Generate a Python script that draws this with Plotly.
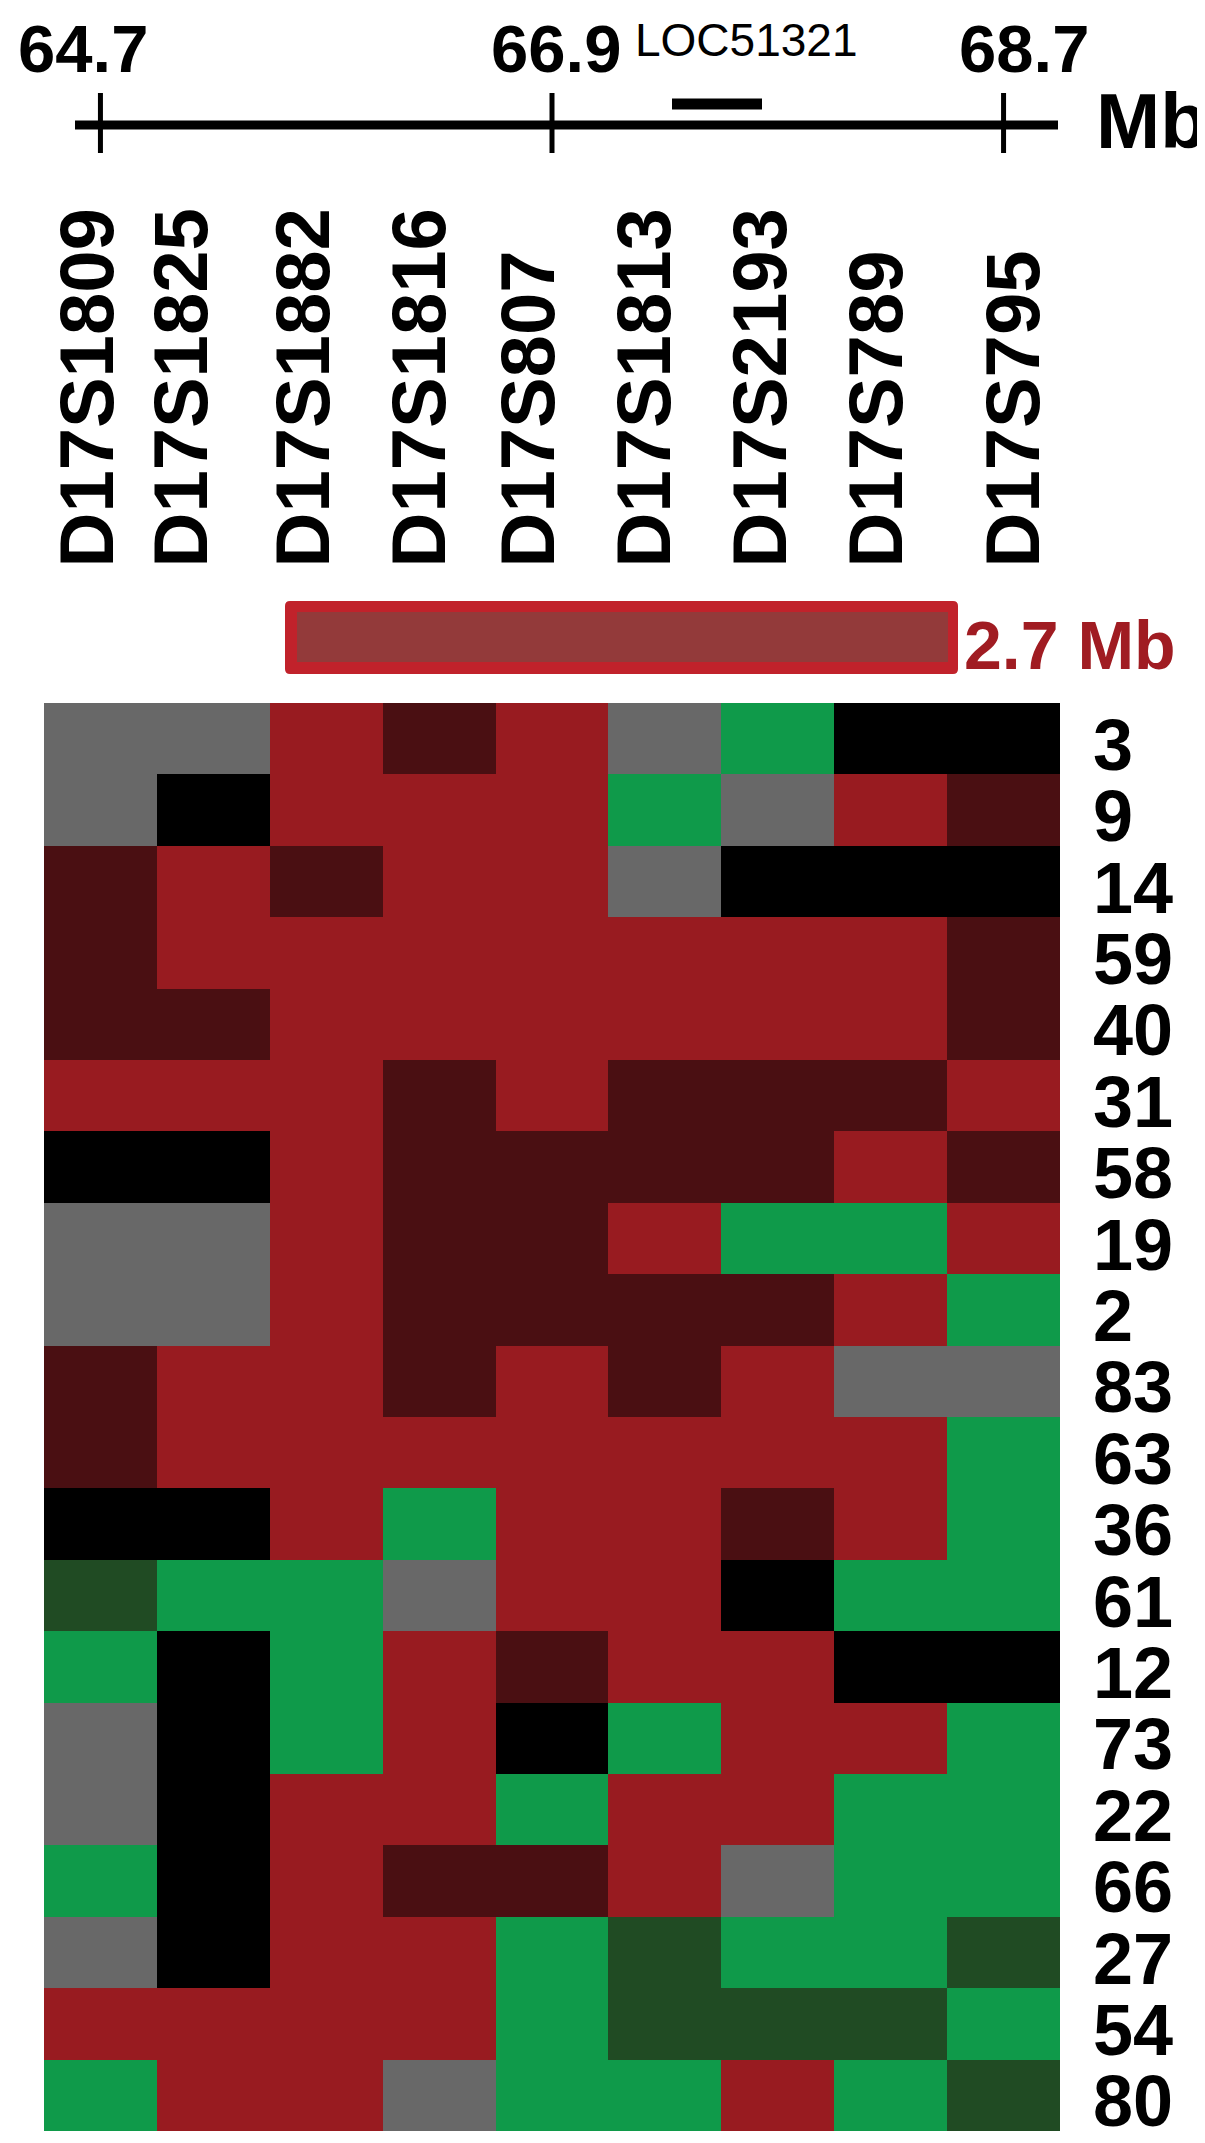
import plotly.graph_objects as go

# genotype codes per cell
CODE_COLORS = ["#000000", "#4A0F12", "#981B20", "#686868", "#0F9A4A", "#204B23"]
K, D, R, Y, G, E = 0, 1, 2, 3, 4, 5

markers = ["D17S1809", "D17S1825", "D17S1882", "D17S1816", "D17S807",
           "D17S1813", "D17S2193", "D17S789", "D17S795"]
patients = ["3", "9", "14", "59", "40", "31", "58", "19", "2", "83",
            "63", "36", "61", "12", "73", "22", "66", "27", "54", "80"]
genotypes = [
    [Y, Y, R, D, R, Y, G, K, K],
    [Y, K, R, R, R, G, Y, R, D],
    [D, R, D, R, R, Y, K, K, K],
    [D, R, R, R, R, R, R, R, D],
    [D, D, R, R, R, R, R, R, D],
    [R, R, R, D, R, D, D, D, R],
    [K, K, R, D, D, D, D, R, D],
    [Y, Y, R, D, D, R, G, G, R],
    [Y, Y, R, D, D, D, D, R, G],
    [D, R, R, D, R, D, R, Y, Y],
    [D, R, R, R, R, R, R, R, G],
    [K, K, R, G, R, R, D, R, G],
    [E, G, G, Y, R, R, K, G, G],
    [G, K, G, R, D, R, R, K, K],
    [Y, K, G, R, K, G, R, R, G],
    [Y, K, R, R, G, R, R, G, G],
    [G, K, R, D, D, R, Y, G, G],
    [Y, K, R, R, G, E, G, G, E],
    [R, R, R, R, G, E, E, E, G],
    [G, R, R, Y, G, G, R, G, E],
]
scale_ticks = ["64.7", "66.9", "68.7"]
scale_tick_marker = [0, 4, 8]
region_label = "2.7 Mb"
gene_label = "LOC51321"

# page layout (pixels)
W, H = 1205, 2143
GRID_L, GRID_R, GRID_T, GRID_B = 36, 1052, 695, 2123
cw = (GRID_R - GRID_L) / len(markers)
rh = (GRID_B - GRID_T) / len(patients)


def fx(px):
    return -0.5 + (px - GRID_L) / cw


def fy(py):
    return -0.5 + (py - GRID_T) / rh


BOLD = dict(family="Liberation Sans, Arial", weight=700)
label_x = [78, 172, 294, 410, 519, 635, 751, 867, 1004]
tick_label_shift = [-17, 4, 20]

n = len(CODE_COLORS)
colorscale = []
for i, c in enumerate(CODE_COLORS):
    colorscale += [[i / n, c], [(i + 1) / n, c]]

fig = go.Figure()
fig.add_trace(go.Heatmap(
    z=genotypes, x=list(range(len(markers))), y=list(range(len(patients))),
    colorscale=colorscale, zmin=-0.5, zmax=n - 0.5, showscale=False, hoverinfo="skip",
))

ann = []
for i, p in enumerate(patients):
    ann.append(dict(x=fx(1083), y=i, text=p, showarrow=False, xanchor="left",
                    yshift=-6, height=66, valign="middle",
                    font=dict(size=72, color="black", **BOLD)))
for m, lx in zip(markers, label_x):
    ann.append(dict(x=fx(lx), y=fy(562), text=m, textangle=-90, showarrow=False,
                    xanchor="center", yanchor="bottom",
                    font=dict(size=76, color="black", **BOLD)))
for t, mi, sh in zip(scale_ticks, scale_tick_marker, tick_label_shift):
    ann.append(dict(x=mi, y=fy(1), text=t, showarrow=False, xanchor="center",
                    yanchor="top", xshift=sh, font=dict(size=67, color="black", **BOLD)))
ann.append(dict(x=fx(1086), y=fy(113), text="Mb", showarrow=False, xanchor="left",
                font=dict(size=77, color="black", **BOLD)))
ann.append(dict(x=fx(738), y=fy(60), text=gene_label, showarrow=False, xanchor="center",
                yanchor="bottom", font=dict(size=46, family="Liberation Sans, Arial", color="black")))
ann.append(dict(x=fx(954), y=fy(637), text=region_label, showarrow=False, xanchor="left",
                font=dict(size=68, color="#A01C22", **BOLD)))


def rounded_rect(x0, y0, x1, y1, r):
    # path in pixel space converted to data units
    pts = [
        f"M {fx(x0 + r)},{fy(y0)}", f"L {fx(x1 - r)},{fy(y0)}",
        f"Q {fx(x1)},{fy(y0)} {fx(x1)},{fy(y0 + r)}", f"L {fx(x1)},{fy(y1 - r)}",
        f"Q {fx(x1)},{fy(y1)} {fx(x1 - r)},{fy(y1)}", f"L {fx(x0 + r)},{fy(y1)}",
        f"Q {fx(x0)},{fy(y1)} {fx(x0)},{fy(y1 - r)}", f"L {fx(x0)},{fy(y0 + r)}",
        f"Q {fx(x0)},{fy(y0)} {fx(x0 + r)},{fy(y0)}", "Z",
    ]
    return " ".join(pts)


shapes = [
    # scale line
    dict(type="line", x0=fx(67), x1=fx(1050), y0=fy(117), y1=fy(117),
         line=dict(color="black", width=9)),
    # gene bar
    dict(type="line", x0=fx(664), x1=fx(754), y0=fy(96), y1=fy(96),
         line=dict(color="black", width=11)),
    # candidate region box
    dict(type="path", path=rounded_rect(277, 593, 950, 666, 5),
         line=dict(width=0), fillcolor="#C1222B"),
    dict(type="rect", x0=fx(289), x1=fx(940), y0=fy(604), y1=fy(654),
         line=dict(width=0), fillcolor="#933A3A"),
]
for mi in scale_tick_marker:
    shapes.append(dict(type="line", x0=mi, x1=mi, y0=fy(85), y1=fy(145),
                       line=dict(color="black", width=5)))

fig.update_layout(
    width=W, height=H,
    margin=dict(l=0, r=0, t=0, b=0),
    paper_bgcolor="white", plot_bgcolor="white",
    xaxis=dict(range=[fx(0), fx(W)], visible=False, fixedrange=True),
    yaxis=dict(range=[fy(H), fy(0)], visible=False, fixedrange=True),
    annotations=ann, shapes=shapes,
    showlegend=False,
)
fig.write_html("out.html")
